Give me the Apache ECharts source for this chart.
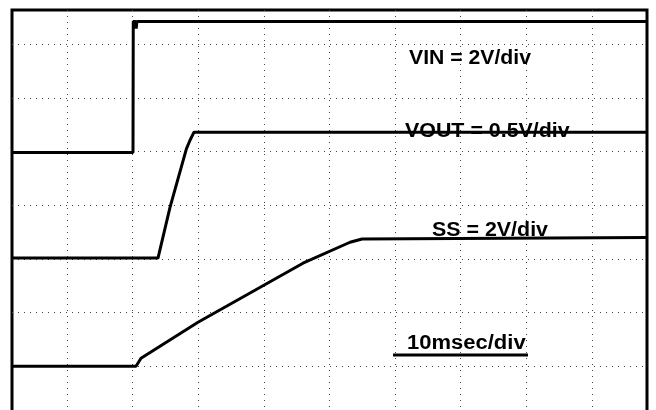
<!DOCTYPE html>
<html>
<head>
<meta charset="utf-8">
<script src="https://cdn.jsdelivr.net/npm/echarts@6/dist/echarts.min.js"></script>
<style>
  html, body { margin: 0; padding: 0; background: #fff; }
  #chart { width: 656px; height: 410px; }
</style>
</head>
<body>
<div id="chart"></div>
<script>
// time in ms (10 ms/div), levels in screen divisions
const xGrid = [10, 20, 30, 40, 50, 60, 70, 80, 90]
const yGrid = [1, 2, 3, 4, 5, 6, 7]

const vinTime = [1.6, 20.06, 20.1, 20.45, 20.55, 20.65, 98.4]
const vinLevel = [4.98, 4.98, 7.42, 7.42, 7.29, 7.42, 7.42]

const voutTime = [1.6, 23.87, 25.7, 28.2, 28.75, 29.36, 98.4]
const voutLevel = [3.015, 3.015, 3.96, 5.05, 5.21, 5.36, 5.36]

const ssTime = [1.6, 20.52, 21.28, 29.97, 45.97, 53.14, 54.97, 98.4]
const ssLevel = [1.0, 1.0, 1.15, 1.82, 2.92, 3.31, 3.37, 3.40]

const labelFont = 'bold 20px "Liberation Sans", Arial, sans-serif'

function pairs(xs, ys) {
  return xs.map((x, i) => [x, ys[i]])
}

function trace(name, xs, ys) {
  return {
    name,
    type: 'line',
    data: pairs(xs, ys),
    showSymbol: false,
    lineStyle: { color: '#000', width: 3 },
    silent: true
  }
}

const chart = echarts.init(document.getElementById('chart'), null, { renderer: 'canvas' })

chart.setOption({
  animation: false,
  backgroundColor: '#fff',
  grid: {
    left: 12,
    right: 9,
    top: 10,
    height: 410,
    outerBoundsMode: 'none',
    show: true,
    borderColor: '#000',
    borderWidth: 3,
    backgroundColor: 'transparent'
  },
  xAxis: {
    type: 'value',
    min: 1.616,
    max: 98.41,
    axisLine: { show: false },
    axisLabel: { show: false },
    axisTick: { show: false, customValues: xGrid },
    splitLine: { show: true, lineStyle: { color: '#444', width: 1, type: [1, 5] } }
  },
  yAxis: {
    type: 'value',
    min: 0,
    max: 7.635,
    axisLine: { show: false },
    axisLabel: { show: false },
    axisTick: { show: false, customValues: yGrid },
    splitLine: { show: true, lineStyle: { color: '#444', width: 1, type: [1, 5] } }
  },
  series: [
    trace('VIN', vinTime, vinLevel),
    trace('VOUT', voutTime, voutLevel),
    trace('SS', ssTime, ssLevel)
  ],
  graphic: [
    { type: 'text', x: 409, y: 58, scaleX: 1.06, z: 100,
      style: { text: 'VIN = 2V/div', font: labelFont, fill: '#000', textVerticalAlign: 'middle' } },
    { type: 'text', x: 405, y: 131.5, scaleX: 1.07, z: 100,
      style: { text: 'VOUT = 0.5V/div', font: labelFont, fill: '#000', textVerticalAlign: 'middle' } },
    { type: 'text', x: 432, y: 230, scaleX: 1.07, z: 100,
      style: { text: 'SS = 2V/div', font: labelFont, fill: '#000', textVerticalAlign: 'middle' } },
    { type: 'text', x: 407, y: 343.5, scaleX: 1.1, z: 100,
      style: { text: '10msec/div', font: labelFont, fill: '#000', textVerticalAlign: 'middle' } },
    { type: 'line', z: 100,
      shape: { x1: 393, y1: 355, x2: 528, y2: 355 },
      style: { stroke: '#000', lineWidth: 3 } }
  ]
})
</script>
</body>
</html>
